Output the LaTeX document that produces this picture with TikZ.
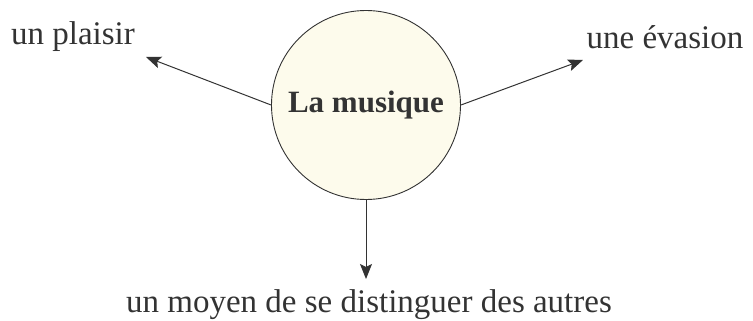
\documentclass[tikz,border=0pt]{standalone}
\usepackage{fontspec}
\setmainfont{Liberation Serif}
\usetikzlibrary{arrows.meta}
\definecolor{ink}{HTML}{333333}
\definecolor{cream}{HTML}{FDFBEC}
\begin{document}
\begin{tikzpicture}[x=1pt,y=-1pt,
  hub/.style={circle,draw=ink,line width=0.9pt,fill=cream,minimum size=189pt,inner sep=0pt,
    font=\fontsize{31}{35}\selectfont\bfseries,text=ink},
  lbl/.style={inner sep=0pt,font=\fontsize{33}{38}\selectfont,text=ink},
  arr/.style={draw=ink,line width=1pt,-{Stealth[length=15pt,width=12pt,inset=3pt]}}]
\useasboundingbox (0,0) rectangle (753,321);
\node[hub] (c) at (366,105) {La musique};
\node[lbl] (p) at (73,37) {un plaisir};
\node[lbl] (e) at (665,37) {une évasion};
\node[lbl] (d) at (369,305) {un moyen de se distinguer des autres};
\coordinate (tp) at (146,57);
\coordinate (te) at (583,60);
\coordinate (td) at (366,279);
\draw[arr] (c.west) -- (tp);
\draw[arr] (c.east) -- (te);
\draw[arr] (c.south) -- (td);
\end{tikzpicture}
\end{document}
